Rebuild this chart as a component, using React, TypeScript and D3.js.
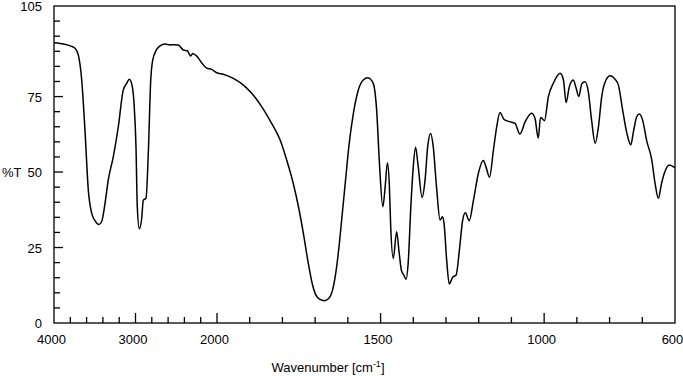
import React from "react";
import * as d3 from "d3";

const wavenumbers = [
  4000, 3926, 3850, 3804, 3742, 3702, 3660, 3620, 3579, 3537, 3497, 3448, 3415, 3374, 3334, 3272,
  3211, 3150, 3108, 3076, 3043, 3018, 2994, 2978, 2953, 2924, 2904, 2871, 2843, 2813, 2789, 2748,
  2699, 2638, 2577, 2536, 2475, 2413, 2364, 2344, 2323, 2298, 2249, 2188, 2127, 2065, 2004, 1981,
  1950, 1914, 1894, 1863, 1833, 1807, 1787, 1767, 1751, 1736, 1721, 1709, 1698, 1685, 1672, 1658,
  1648, 1637, 1627, 1617, 1607, 1597, 1583, 1568, 1553, 1539, 1527, 1520, 1512, 1504, 1493, 1486,
  1479, 1473, 1469, 1461, 1451, 1443, 1436, 1429, 1422, 1415, 1408, 1400, 1393, 1385, 1373, 1364,
  1356, 1347, 1339, 1329, 1318, 1311, 1306, 1298, 1290, 1280, 1269, 1259, 1249, 1241, 1229, 1216,
  1201, 1186, 1178, 1167, 1155, 1145, 1135, 1123, 1106, 1089, 1074, 1058, 1038, 1028, 1018, 1011,
  1004, 999, 987, 972, 951, 941, 933, 923, 911, 903, 894, 885, 875, 865, 855, 844,
  834, 824, 811, 798, 783, 773, 760, 747, 735, 727, 717, 709, 699, 687, 671, 661,
  651, 641, 631, 617, 603, 600,
];
const transmittance = [
  92.8, 92.6, 92.2, 91.8, 91.0, 88.8, 80.5, 63.9, 44.0, 36.3, 33.9, 32.6, 33.6, 39.6, 47.4, 55.1,
  65.0, 77.2, 79.4, 80.7, 78.8, 72.8, 58.4, 38.5, 31.2, 34.7, 40.7, 41.3, 56.2, 80.5, 87.1, 90.2,
  91.8, 92.4, 92.1, 92.2, 92.1, 90.4, 90.2, 89.3, 88.4, 89.3, 88.4, 86.2, 84.4, 84.0, 82.9, 82.4,
  81.0, 78.3, 76.1, 71.6, 66.1, 60.6, 54.0, 46.3, 38.5, 29.7, 19.8, 13.1, 9.3, 7.8, 7.4, 8.2,
  10.4, 16.5, 25.3, 36.3, 47.4, 58.4, 69.5, 77.2, 80.5, 81.2, 80.3, 78.5, 70.5, 54.0, 38.5, 45.1,
  53.1, 45.1, 31.9, 21.4, 30.2, 23.1, 17.3, 15.9, 14.5, 20.9, 37.4, 51.8, 58.2, 51.8, 41.6, 47.4,
  58.4, 62.8, 58.4, 45.1, 34.1, 35.2, 33.0, 20.9, 12.9, 15.1, 15.9, 24.2, 34.1, 36.5, 33.9, 40.7,
  49.6, 53.8, 51.8, 48.3, 57.3, 65.0, 69.7, 67.5, 66.7, 66.1, 62.6, 66.7, 69.5, 67.8, 61.2, 68.1,
  67.5, 67.0, 75.0, 79.4, 82.7, 80.5, 73.0, 78.3, 80.5, 78.1, 75.0, 79.2, 79.9, 76.6, 67.2, 59.5,
  65.0, 75.0, 80.5, 81.9, 80.7, 78.8, 70.5, 62.8, 59.0, 63.4, 68.3, 69.2, 67.2, 60.6, 54.0, 46.3,
  41.3, 46.3, 50.1, 52.3, 51.6, 51.4,
];

const xLabelValues = [4000, 3000, 2000, 1500, 1000, 600];
const yLabelValues = [0, 25, 50, 75, 105];
const xMajorTicks = [3000, 2000, 1500, 1000];
const yMajorTicks = [25, 50, 75];

export default function App() {
  const W = 683;
  const H = 376;
  const left = 54;
  const right = 675;
  const top = 6;
  const bottom = 323;

  const x = d3.scaleLinear().domain([4000, 2000, 600]).range([left, 217, right]);
  const y = d3.scaleLinear().domain([0, 105]).range([bottom, top]);

  const xTicks: number[] = [];
  for (let v = 3800; v > 2000; v -= 200) xTicks.push(v);
  for (let v = 2000; v > 600; v -= 100) xTicks.push(v);
  const yTicks: number[] = [];
  for (let v = 5; v <= 100; v += 5) yTicks.push(v);

  const pts = wavenumbers.map((w, i) => [w, transmittance[i]] as [number, number]);
  const line = d3
    .line<[number, number]>()
    .x((d) => x(d[0]))
    .y((d) => y(d[1]))
    .curve(d3.curveMonotoneX);

  const font = "Liberation Sans, Arial, sans-serif";

  return (
    <svg
      width={W}
      height={H}
      style={{ position: "absolute", left: 0, top: 0, background: "#fff" }}
    >
      <rect x={left} y={top} width={right - left} height={bottom - top} fill="none" stroke="#000" strokeWidth={1.3} />
      {xTicks.map((v) => {
        const major = xMajorTicks.includes(v);
        return (
          <line key={"xt" + v} x1={x(v)} x2={x(v)} y1={bottom} y2={bottom - (major ? 10 : 6)} stroke="#000" strokeWidth={1.3} />
        );
      })}
      {yTicks.map((v) => {
        const major = yMajorTicks.includes(v);
        return (
          <line key={"yt" + v} x1={left} x2={left + (major ? 9 : 6)} y1={y(v)} y2={y(v)} stroke="#000" strokeWidth={1.3} />
        );
      })}
      {xLabelValues.map((v) => (
        <text key={"xl" + v} x={x(v) - 2.5} y={344} textAnchor="middle" fontFamily={font} fontSize={13} fill="#000">
          {v}
        </text>
      ))}
      {yLabelValues.map((v) => (
        <text key={"yl" + v} x={42} y={y(v) + 5} textAnchor="end" fontFamily={font} fontSize={13} fill="#000">
          {v}
        </text>
      ))}
      <text x={2} y={y(50) + 5} fontFamily={font} fontSize={13} fill="#000">
        %T
      </text>
      <text x={328} y={372} textAnchor="middle" fontFamily={font} fontSize={13} fill="#000">
        Wavenumber [cm
        <tspan fontSize={9} dy={-5}>-1</tspan>
        <tspan dy={5}>]</tspan>
      </text>
      <path d={line(pts) ?? ""} fill="none" stroke="#000" strokeWidth={1.5} strokeLinejoin="round" />
    </svg>
  );
}
